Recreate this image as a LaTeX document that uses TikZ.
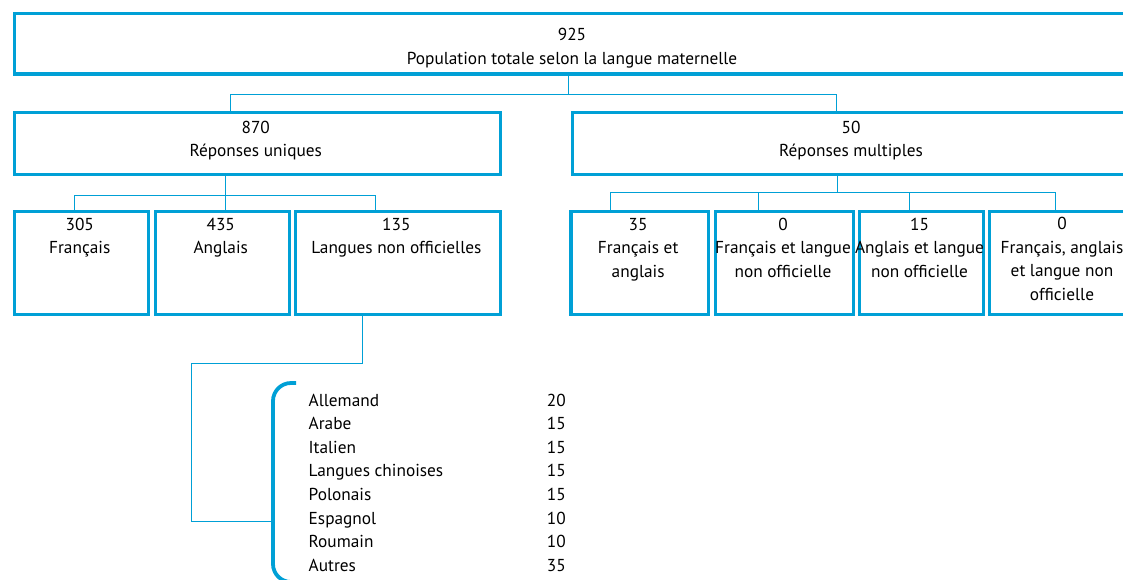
\documentclass[tikz,border=0pt]{standalone}
\usepackage{fontspec}
\setmainfont{PT Sans}
\definecolor{sc}{RGB}{0,160,214}
\begin{document}
\begin{tikzpicture}[x=1pt,y=-1pt,
  box/.style={draw=sc,line width=3.2pt,inner sep=0,anchor=north west},
  conn/.style={draw=sc,line width=1pt},
  lbl/.style={font=\fontsize{17.3}{23.5}\selectfont,align=center,anchor=base,inner sep=0},
  item/.style={font=\fontsize{17.3}{23.5}\selectfont,anchor=base west,inner sep=0},
  num/.style={font=\fontsize{17.3}{23.5}\selectfont,anchor=base east,inner sep=0},
  bracket/.style={draw=sc,line width=3.8pt,rounded corners=18pt}]
\useasboundingbox (0,0) rectangle (1123,579);
\clip (0,0) rectangle (1123,579);
% boxes
\node[box,minimum width=1118.5pt,minimum height=60.6pt] (top) at (12.5,11.7) {};
\node[box,minimum width=486.5pt,minimum height=62pt] (b870) at (12.5,110.5) {};
\node[box,minimum width=560pt,minimum height=62pt] (b50) at (571,110.5) {};
\node[box,minimum width=134.5pt,minimum height=103pt] (b305) at (12.5,209.5) {};
\node[box,minimum width=133.5pt,minimum height=103pt] (b435) at (154,209.5) {};
\node[box,minimum width=205.3pt,minimum height=103pt] (b135) at (293.7,209.5) {};
\node[box,minimum width=137.7pt,minimum height=103pt] (b35) at (569.3,209.5) {};
\node[box,minimum width=138pt,minimum height=103pt] (b0a) at (714,209.5) {};
\node[box,minimum width=124pt,minimum height=103pt] (b15) at (857.5,209.5) {};
\node[box,minimum width=148pt,minimum height=103pt] (b0b) at (988,209.5) {};
% labels (anchored at the baseline of their last line)
\node[lbl,font=\fontsize{17.3}{24.3}\selectfont] (ttop) at (572,64.3) {925\\Population totale selon la langue maternelle};
\node[lbl] (t870) at (255.75,156.5) {870\\Réponses uniques};
\node[lbl] (t50) at (851,156.5) {50\\Réponses multiples};
\node[lbl] (t305) at (79.75,253.8) {305\\Français};
\node[lbl] (t435) at (220.75,253.8) {435\\Anglais};
\node[lbl] (t135) at (396.35,253.8) {135\\Langues non officielles};
\node[lbl] (t35) at (638.15,277) {35\\Français et\\anglais};
\node[lbl] (t0a) at (783,277) {0\\Français et langue\\non officielle};
\node[lbl] (t15) at (919.5,277) {15\\Anglais et langue\\non officielle};
\node[lbl] (t0b) at (1062,300.3) {0\\Français, anglais\\et langue non\\officielle};
% connectors
\draw[conn] ([xshift=-4.75pt]top.south) -- ++(0,19.4) -| ([xshift=-26.75pt]b870.north);
\draw[conn] ([xshift=-4.75pt]top.south) -- ++(0,19.4) -| ([xshift=-16pt]b50.north);
\draw[conn] ([xshift=-32.15pt]b870.south) -- ++(0,19.5) -| ([xshift=-6.75pt]b305.north);
\draw[conn] ([xshift=-32.15pt]b870.south) -- ([xshift=2.85pt]b435.north);
\draw[conn] ([xshift=-32.15pt]b870.south) -- ++(0,19.5) -| ([xshift=-22.75pt]b135.north);
\draw[conn] ([xshift=-15.3pt]b50.south) -- ++(0,17) -| ([xshift=-29.15pt]b35.north);
\draw[conn] ([xshift=-15.3pt]b50.south) -- ++(0,17) -| ([xshift=-26pt]b0a.north);
\draw[conn] ([xshift=-15.3pt]b50.south) -- ++(0,17) -| ([xshift=-12pt]b15.north);
\draw[conn] ([xshift=-15.3pt]b50.south) -- ++(0,17) -| ([xshift=-8pt]b0b.north);
% bracket and list
\draw[bracket] (296,383) -- (273,383) -- (273,582) -- (296,582);
\coordinate (brk) at (273,521);
\coordinate (elbow) at (191,363.3);
\draw[conn] ([xshift=-35.35pt]b135.south) |- (elbow) |- (brk);
\foreach \n/\l/\v [count=\i from 0] in {l1/Allemand/20,l2/Arabe/15,l3/Italien/15,l4/Langues chinoises/15,l5/Polonais/15,l6/Espagnol/10,l7/Roumain/10,l8/Autres/35}{
  \node[item] (\n) at (308.5,406+23.6*\i) {\l};
  \node[num] (\n v) at (566,406+23.6*\i) {\v};
}
\end{tikzpicture}
\end{document}
